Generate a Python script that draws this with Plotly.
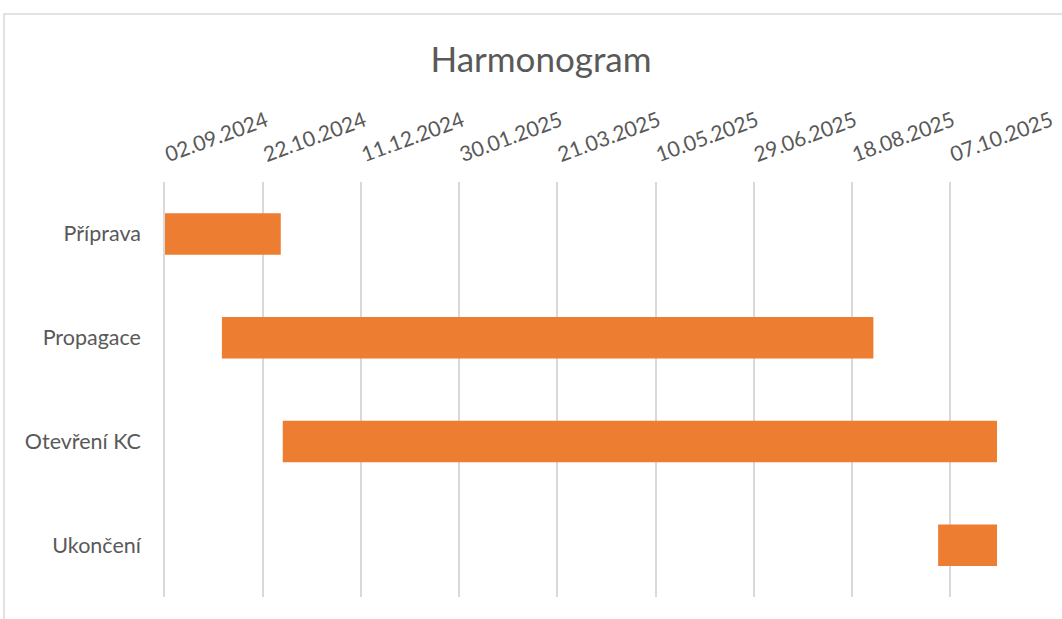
import plotly.graph_objects as go
import pandas as pd

tasks = ["Příprava", "Propagace", "Otevření KC", "Ukončení"]
starts = ["2024-09-02", "2024-10-01", "2024-11-01", "2025-10-01"]
ends = ["2024-10-31", "2025-08-29", "2025-10-31", "2025-10-31"]

axis_start = "2024-09-02"
axis_end = "2025-10-31"
tick_step_days = 50

s = pd.to_datetime(starts)
e = pd.to_datetime(ends)
durations_ms = [(b - a).total_seconds() * 1000 for a, b in zip(s, e)]

FONT = "Lato"
TEXT = "#595959"
GRID = "#D9D9D9"

fig = go.Figure()
fig.add_trace(go.Bar(
    y=tasks,
    x=durations_ms,
    base=starts,
    orientation="h",
    marker=dict(color="#ED7D31", line=dict(width=0)),
    showlegend=False,
))

fig.update_layout(
    width=1062, height=619,
    margin=dict(l=165, r=65, t=182, b=22),
    paper_bgcolor="white", plot_bgcolor="white",
    bargap=0.6,
    title=dict(text="Harmonogram", x=541/1062, xanchor="center",
               y=1 - 60/619, yanchor="middle", yref="container",
               font=dict(family=FONT, size=35, color=TEXT)),
    font=dict(family=FONT, color=TEXT),
    xaxis=dict(
        type="date", side="top", automargin=False,
        range=[axis_start, axis_end],
        tick0=axis_start, dtick=tick_step_days * 86400000,
        tickformat="%d.%m.%Y", tickangle=-20,
        tickfont=dict(family=FONT, size=21, color=TEXT),
        showgrid=True, gridcolor=GRID, gridwidth=1.5,
        showline=False, zeroline=False, ticks="",
        ticklabelstandoff=14,
    ),
    yaxis=dict(
        autorange="reversed", automargin=False,
        categoryorder="array", categoryarray=tasks,
        tickfont=dict(family=FONT, size=21.5, color=TEXT),
        showgrid=False, zeroline=False, ticks="",
        showline=True, linecolor=GRID, linewidth=1.5,
        ticklabelstandoff=18,
    ),
    shapes=[dict(type="rect", xref="paper", yref="paper",
                 x0=(4 - 165) / 832, x1=1.2, y0=-0.2, y1=1 + (182 - 14) / 415,
                 line=dict(color=GRID, width=1.5), fillcolor="rgba(0,0,0,0)",
                 layer="below")],
)

fig.write_html("out.html", config={"displayModeBar": False},
               post_script="document.body.style.margin='0';")
